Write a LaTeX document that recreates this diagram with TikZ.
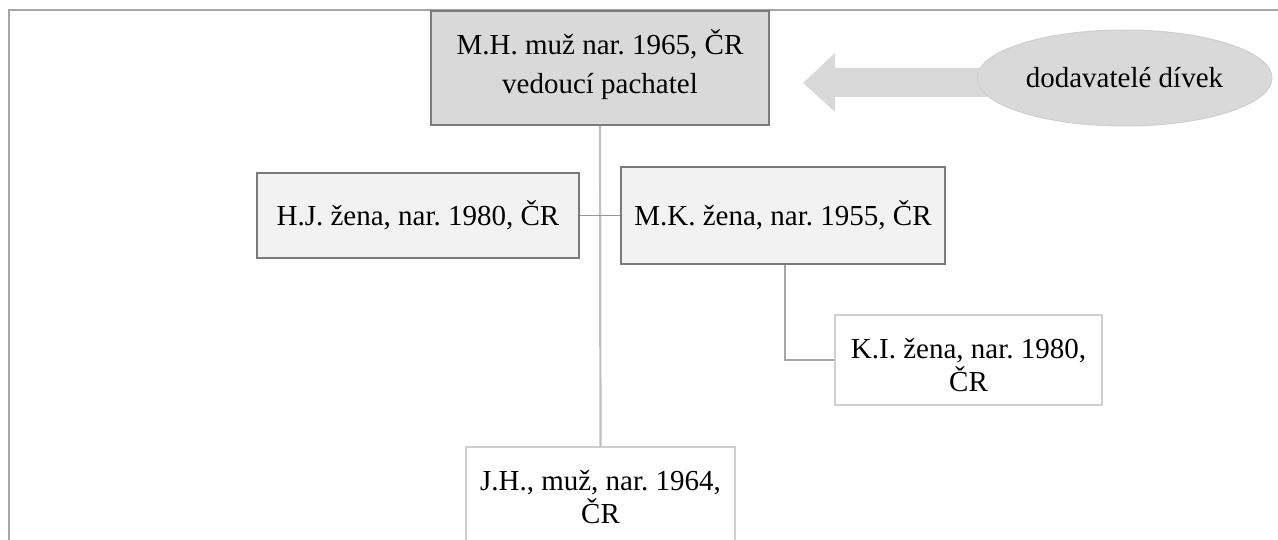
\documentclass[tikz,border=0pt]{standalone}
\usepackage{fontspec}
\setmainfont{Liberation Serif}
\usetikzlibrary{shapes.geometric}
\frenchspacing
\definecolor{boxdark}{HTML}{D9D9D9}
\definecolor{boxlight}{HTML}{F2F2F2}
\definecolor{edgedark}{HTML}{7A7A7A}
\definecolor{edgelight}{HTML}{CFCFCF}
\definecolor{linkgray}{HTML}{BFBFBF}
\definecolor{framegray}{HTML}{A6A6A6}
\tikzset{
  txt/.style={font=\fontsize{29}{33}\selectfont, align=center, inner sep=0pt},
  darkbox/.style={txt, rectangle, fill=boxdark, draw=edgedark, line width=2.5pt},
  midbox/.style={txt, rectangle, fill=boxlight, draw=edgedark, line width=2.5pt},
  plainbox/.style={txt, rectangle, fill=white, draw=edgelight, line width=1.5pt},
  link/.style={draw=linkgray, line width=2.2pt},
  thinlink/.style={draw=edgedark!80, line width=1.3pt},
  sidelink/.style={draw=framegray, line width=2.2pt}
}
\begin{document}
\begin{tikzpicture}[x=1pt,y=-1pt]
\useasboundingbox (0,0) rectangle (1278,540);
\fill[white] (0,0) rectangle (1278,540);
% outer frame
\coordinate (fA) at (9,540);
\coordinate (fB) at (9,10);
\coordinate (fC) at (1278,10);
\draw[framegray, line width=1.6pt] (fA) -- (fB) -- (fC);

% nodes
\node[darkbox, minimum width=338pt, minimum height=114pt] (MH) at (600,68) {};
\node[txt] (MHtext) at ([yshift=3pt]MH.center)
  {M.H. muž nar. 1965, ČR\\[6pt]vedoucí pachatel};
\node[midbox, minimum width=322pt, minimum height=85pt] (HJ) at (418,215.5)
  {H.J. žena, nar. 1980, ČR};
\node[midbox, minimum width=324pt, minimum height=97pt] (MK) at (783,215.5)
  {M.K. žena, nar. 1955, ČR};
\node[plainbox, minimum width=267pt, minimum height=90pt] (KI) at (968.5,360) {};
\node[txt] (KItext) at ([yshift=-5pt]KI.center) {K.I. žena, nar. 1980,\\ČR};
\node[plainbox, minimum width=269pt, minimum height=100pt] (JH) at (600.5,497)
  {J.H., muž, nar. 1964,\\ČR};

% arrow from supplier ellipse
\fill[boxdark] (803,83) -- (835,53) -- (835,68) -- (1000,68) -- (1000,97) -- (835,97) -- (835,112) -- cycle;
\node[txt, ellipse, fill=boxdark, draw=edgelight, line width=1pt,
      minimum width=295pt, minimum height=96pt] (DD) at (1124.5,78)
  {dodavatelé dívek};

% connectors
\draw[link] (MH.south) -- (JH.north);
\draw[thinlink] (HJ.east) -- (MK.west);
\draw[sidelink] ([xshift=2pt]MK.south) |- (KI.west);
\end{tikzpicture}
\end{document}
